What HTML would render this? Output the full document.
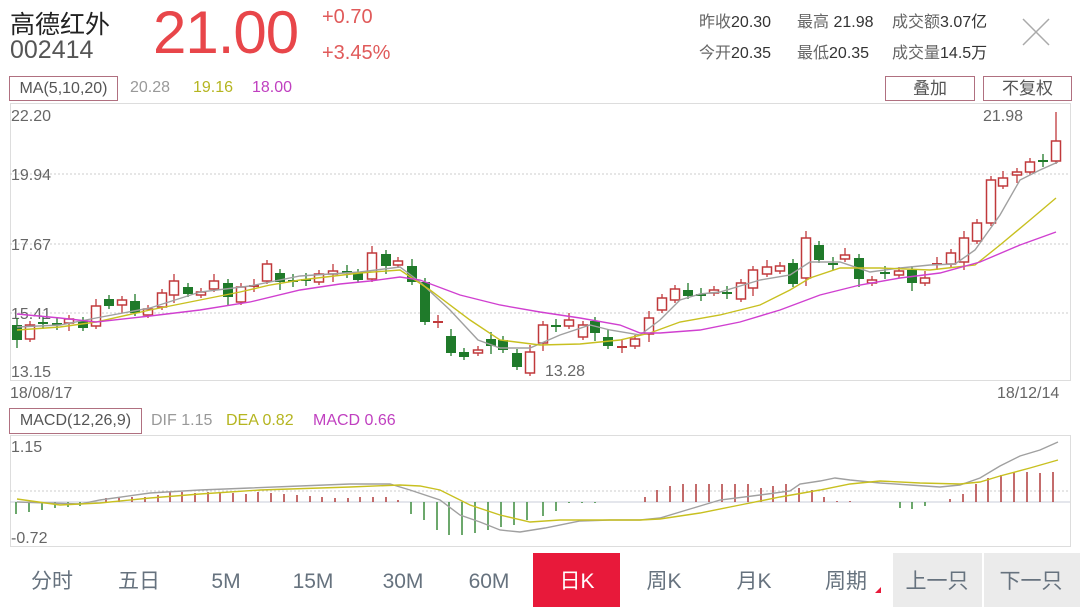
<!DOCTYPE html>
<html><head><meta charset="utf-8">
<style>
html,body{margin:0;padding:0;background:#fff;width:1080px;height:607px;overflow:hidden;font-family:"Liberation Sans","Noto Sans CJK SC",sans-serif;}
.a{position:absolute;white-space:nowrap;}
</style></head><body>
<div style="position:relative;width:1080px;height:607px;">
<div class="a" style="left:10px;top:5px;font-size:25px;color:#222;">高德红外</div>
<div class="a" style="left:10px;top:36px;font-size:25px;color:#555;">002414</div>
<div class="a" style="left:153px;top:-2px;font-size:60px;color:#e8464a;letter-spacing:-1px;">21.00</div>
<div class="a" style="left:322px;top:6px;font-size:20px;color:#e05a5a;">+0.70</div>
<div class="a" style="left:322px;top:42px;font-size:20px;color:#e05a5a;">+3.45%</div>
<div class="a" style="left:699px;top:8px;font-size:16px;color:#333;"><span style="color:#666">昨收</span>20.30</div>
<div class="a" style="left:797px;top:8px;font-size:16px;color:#333;"><span style="color:#666">最高</span> 21.98</div>
<div class="a" style="left:892px;top:8px;font-size:16px;color:#333;"><span style="color:#666">成交额</span>3.07亿</div>
<div class="a" style="left:699px;top:39px;font-size:16px;color:#333;"><span style="color:#666">今开</span>20.35</div>
<div class="a" style="left:797px;top:39px;font-size:16px;color:#333;"><span style="color:#666">最低</span>20.35</div>
<div class="a" style="left:892px;top:39px;font-size:16px;color:#333;"><span style="color:#666">成交量</span>14.5万</div>
<div class="a" style="left:9px;top:76px;width:107px;height:23px;border:1px solid #b07080;font-size:16px;color:#555;line-height:23px;text-align:center;">MA(5,10,20)</div>
<div class="a" style="left:130px;top:79px;font-size:16px;color:#999;">20.28</div>
<div class="a" style="left:193px;top:79px;font-size:16px;color:#b5b520;">19.16</div>
<div class="a" style="left:252px;top:79px;font-size:16px;color:#c040c0;">18.00</div>
<div class="a" style="left:885px;top:76px;width:88px;height:23px;border:1px solid #b07080;font-size:17px;color:#555;line-height:23px;text-align:center;">叠加</div>
<div class="a" style="left:983px;top:76px;width:87px;height:23px;border:1px solid #b07080;font-size:17px;color:#555;line-height:23px;text-align:center;">不复权</div>
<div class="a" style="left:9px;top:408px;width:131px;height:24px;border:1px solid #b07080;font-size:16px;color:#555;line-height:24px;text-align:center;">MACD(12,26,9)</div>
<div class="a" style="left:151px;top:412px;font-size:16px;color:#999;">DIF 1.15</div>
<div class="a" style="left:226px;top:412px;font-size:16px;color:#b5b520;">DEA 0.82</div>
<div class="a" style="left:313px;top:412px;font-size:16px;color:#c040c0;">MACD 0.66</div>

<svg id="s" class="a" style="left:0;top:0" width="1080" height="607" xmlns="http://www.w3.org/2000/svg">
<line x1="1023" y1="19" x2="1049" y2="45" stroke="#aaa" stroke-width="1.5"/>
<line x1="1049" y1="19" x2="1023" y2="45" stroke="#aaa" stroke-width="1.5"/>
<rect x="10.5" y="103.5" width="1060" height="277" fill="none" stroke="#ddd"/>
<line x1="10" y1="174" x2="1070" y2="174" stroke="#ccc" stroke-dasharray="2,2"/>
<line x1="10" y1="244" x2="1070" y2="244" stroke="#ccc" stroke-dasharray="2,2"/>
<line x1="10" y1="313" x2="1070" y2="313" stroke="#ccc" stroke-dasharray="2,2"/>
<g font-size="16" fill="#666" font-family="Liberation Sans,sans-serif">
<text x="11" y="121">22.20</text><text x="11" y="180">19.94</text><text x="11" y="250">17.67</text><text x="11" y="319">15.41</text><text x="11" y="377">13.15</text>
<text x="545" y="376">13.28</text><text x="983" y="121">21.98</text>
<text x="10" y="398">18/08/17</text><text x="997" y="398">18/12/14</text>
<text x="11" y="452">1.15</text><text x="11" y="543">-0.72</text>
</g>
<rect x="10.5" y="435.5" width="1060" height="111" fill="none" stroke="#ddd"/>
<line x1="10" y1="491" x2="1070" y2="491" stroke="#ccc" stroke-dasharray="2,2"/>
<line x1="10" y1="502" x2="1070" y2="502" stroke="#c8ccd8"/>
<g id="c"></g>
<rect x="533" y="553" width="87" height="54" fill="#e8193a"/>
<rect x="893" y="553" width="89" height="54" fill="#ebebeb"/>
<rect x="984" y="553" width="96" height="54" fill="#ebebeb"/>
<path d="M875 593 L881 587 L881 593 Z" fill="#e8193a"/>
<g font-size="21" fill="#66727e" text-anchor="middle" font-family="Liberation Sans,Noto Sans CJK SC,sans-serif">
<text x="52" y="588">分时</text><text x="139" y="588">五日</text><text x="226" y="588">5M</text><text x="313" y="588">15M</text><text x="403" y="588">30M</text><text x="489" y="588">60M</text><text x="577" y="588" fill="#fff">日K</text><text x="664" y="588">周K</text><text x="754" y="588">月K</text><text x="846" y="588">周期</text><text x="937" y="588">上一只</text><text x="1031" y="588">下一只</text>
</g>
</svg>
</div>
<script>
var C=[[17,'g',325,340],[30,'r',325,339],[43,'x',323],[57,'x',324],[69,'r',319,323],[83,'g',321,328],[96,'r',306,326],[109,'g',299,306],[122,'r',300,305],[135,'g',301,313],[148,'r',309,315],[162,'r',293,307],[174,'r',281,295],[188,'g',287,294],[201,'r',292,295],[214,'r',281,289],[228,'g',283,297],[241,'r',287,302],[254,'xr',286],[267,'r',264,281],[280,'g',273,282],[293,'x',281],[306,'x',280],[319,'r',274,282],[333,'r',271,274],[347,'x',272],[358,'g',273,280],
[372,'r',253,279],[386,'g',254,266],[398,'r',261,265],[412,'g',266,282],[425,'g',282,322],[438,'xr',322],[451,'g',336,353],[464,'g',352,357],[478,'r',350,353],[491,'g',339,346],[503,'g',340,350],[517,'g',353,367],[530,'r',352,373],[543,'r',325,343],[556,'x',326],[569,'r',320,326],[583,'r',325,337],[595,'g',321,333],[608,'g',337,346],[622,'xr',347],[635,'r',339,346],[649,'r',318,334],[662,'r',298,310],[675,'r',289,300],[688,'g',290,296],[701,'x',295],[714,'r',290,293],
[727,'x',293],[741,'r',283,299],[753,'r',270,288],[767,'r',267,274],[780,'r',266,271],[793,'g',263,284],[806,'r',238,278],[819,'g',245,260],[833,'x',264],[845,'r',255,259],[859,'g',258,279],[872,'r',280,283],[885,'x',273],[899,'r',271,275],[912,'g',270,283],[925,'r',278,283],[937,'xr',264],[951,'r',253,264],[964,'r',238,262],[977,'r',223,241],[991,'r',180,223],[1003,'r',178,186],[1017,'r',172,175],[1030,'r',162,172],[1043,'x',161],[1056,'r',141,161]];
var h='';
C.forEach(function(c,i){var x=c[0],t=c[1];var R='#c0393b',G='#1f7a2a';
if(t[0]=='x'){var col=t=='xr'?R:G;var y=c[2];h+='<line x1="'+x+'" y1="'+(y-7)+'" x2="'+x+'" y2="'+(y+6)+'" stroke="'+col+'" stroke-width="1.3"/><line x1="'+(x-5)+'" y1="'+y+'" x2="'+(x+5)+'" y2="'+y+'" stroke="'+col+'" stroke-width="2"/>';return;}
var a=c[2],b=c[3],hi=a-(i%3==0?7:4),lo=b+(i%4==0?8:3);if(i==C.length-1)hi=112;
if(t=='r'){h+='<line x1="'+x+'" y1="'+hi+'" x2="'+x+'" y2="'+lo+'" stroke="'+R+'" stroke-width="1.3"/><rect x="'+(x-4.5)+'" y="'+a+'" width="9" height="'+Math.max(b-a,2)+'" fill="#fff" stroke="'+R+'" stroke-width="1.5"/>';}
else{h+='<line x1="'+x+'" y1="'+hi+'" x2="'+x+'" y2="'+lo+'" stroke="'+G+'" stroke-width="1.3"/><rect x="'+(x-5)+'" y="'+a+'" width="10" height="'+Math.max(b-a,2)+'" fill="'+G+'"/>';}
});
function pl(p,col){return '<polyline fill="none" stroke="'+col+'" stroke-width="1.4" points="'+p+'"/>';}
h+=pl('17,327 60,325 96,318 150,308 200,292 250,286 300,276 360,272 400,267 420,282 450,310 478,340 500,348 530,348 560,335 590,325 610,330 640,335 660,320 680,300 700,294 720,292 760,280 790,275 810,262 840,262 870,272 900,268 930,265 955,264 975,250 1000,215 1020,180 1040,170 1058,162','#a0a0a0');
h+=pl('17,330 60,327 96,322 150,310 200,300 240,292 270,285 300,280 360,273 400,270 430,290 470,320 500,340 540,345 580,344 620,340 650,333 680,322 720,315 760,305 790,290 810,278 840,268 880,268 930,270 975,265 1000,245 1030,220 1056,198','#c8c020');
h+=pl('17,314 60,318 96,322 150,316 200,310 250,302 300,290 340,284 370,281 400,277 420,280 460,295 500,305 540,312 580,318 620,325 640,333 660,333 700,330 740,322 780,310 820,295 860,285 900,278 940,273 980,262 1020,245 1056,232','#d040d0');
var M=[[16,514],[29,512],[42,510],[55,508],[68,507],[80,506],[106,498],[119,498],[132,497],[145,497],[158,495],[170,492],[182,492],[195,493],[208,492],[220,492],[233,493],[246,494],[258,492],[271,493],[284,494],[297,495],[310,496],[322,497],[335,498],[348,498],[360,497],[373,497],[386,497],[398,500],[411,514],[424,520],[437,530],[449,535],[462,535],[475,533],[488,530],[501,527],[514,525],[527,520],[543,516],[556,511],[569,503],[582,503],[595,503],[645,497],[657,490],[670,486],[683,484],[696,484],[709,484],[722,484],[735,484],[748,484],[761,488],[773,486],[786,484],[799,488],[812,490],[824,497],[837,501],[850,501],[900,508],[912,509],[925,506],[950,499],[963,494],[976,484],[988,478],[1001,475],[1014,472],[1027,472],[1040,473],[1053,472]];
M.forEach(function(m){h+='<line x1="'+m[0]+'" y1="502" x2="'+m[0]+'" y2="'+m[1]+'" stroke="'+(m[1]<502?'#b03a3a':'#3a8a3a')+'" stroke-width="1.5"/>';});
h+=pl('17,502 80,504 100,500 150,493 200,490 250,488 300,486 350,484 390,484 410,490 440,500 460,515 480,522 500,530 520,532 545,528 580,521 610,520 640,520 660,518 690,509 720,500 760,495 790,491 800,484 820,481 835,478 850,480 880,483 910,485 940,487 960,485 980,478 1000,466 1020,456 1040,450 1058,442','#a0a0a0');
h+=pl('17,499 60,505 100,503 150,498 200,494 260,490 350,487 400,485 420,486 440,490 470,505 500,515 530,522 560,520 600,520 640,520 660,519 700,513 740,505 780,497 820,490 850,484 880,481 920,483 960,484 980,482 1000,476 1030,468 1058,460','#c8c020');
document.getElementById('c').innerHTML=h;
</script>
</body></html>
